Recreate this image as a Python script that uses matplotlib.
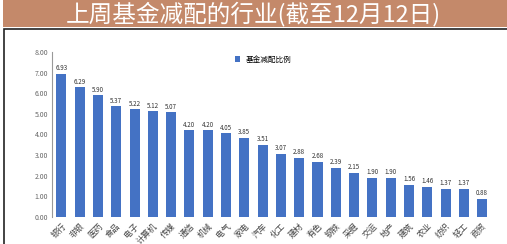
import matplotlib
matplotlib.use("Agg")
import matplotlib.pyplot as plt
from matplotlib.patches import Rectangle
import numpy as np

plt.rcParams["font.family"] = ["Noto Sans CJK SC", "DejaVu Sans"]

title = "上周基金减配的行业(截至12月12日)"
legend_label = "基金减配比例"
industries = ["银行", "非银", "医药", "食品", "电子", "计算机", "传媒", "通信",
              "机械", "电气", "家电", "汽车", "化工", "建材", "有色", "钢铁",
              "采掘", "交运", "地产", "建筑", "农业", "纺织", "轻工", "商贸"]
values = [6.93, 6.29, 5.90, 5.37, 5.22, 5.12, 5.07, 4.20, 4.20, 4.05, 3.85, 3.51,
          3.07, 2.88, 2.68, 2.39, 2.15, 1.90, 1.90, 1.56, 1.46, 1.37, 1.37, 0.88]
yticks = [0, 1, 2, 3, 4, 5, 6, 7, 8]

fig = plt.figure(figsize=(5.07, 2.44), dpi=100)
fig.patch.set_facecolor("white")

# title band
fig.add_artist(Rectangle((0.006, 0.889), 0.994, 0.111, transform=fig.transFigure,
                         facecolor="#c4896a", edgecolor="none"))
fig.text(0.5, 0.944, title, color="white", fontsize=17, ha="center", va="center")
# chart frame
fig.add_artist(Rectangle((0.008, -0.05), 1.05, 0.93, transform=fig.transFigure,
                         facecolor="none", edgecolor="#222222", linewidth=1.2))

ax = fig.add_axes([0.103, 0.111, 0.866, 0.676])
x = np.arange(len(values))
ax.bar(x, values, width=0.55, color="#4472c4", label=legend_label)
for xi, v in zip(x, values):
    ax.text(xi, v + 0.08, "{:.2f}".format(v), ha="center", va="bottom",
            fontsize=4.5, color="#333333")

ax.set_xlim(-0.5, len(values) - 0.5)
ax.set_ylim(0, 8)
ax.set_yticks(yticks)
ax.set_yticklabels(["{:.2f}".format(t) for t in yticks], fontsize=5, color="#666666")
ax.set_xticks(x)
ax.set_xticklabels(industries, rotation=45, ha="right", rotation_mode="anchor",
                   fontsize=6, color="#444444")
ax.tick_params(axis="both", length=0, pad=3)
for side in ["top", "right", "bottom"]:
    ax.spines[side].set_visible(False)
ax.spines["left"].set_color("#999999")
ax.spines["left"].set_linewidth(0.8)
ax.legend(loc="upper left", bbox_to_anchor=(0.4, 1.02), frameon=False, fontsize=5.5,
          handlelength=0.7, handleheight=0.9)

fig.savefig("out.png", dpi=100)
